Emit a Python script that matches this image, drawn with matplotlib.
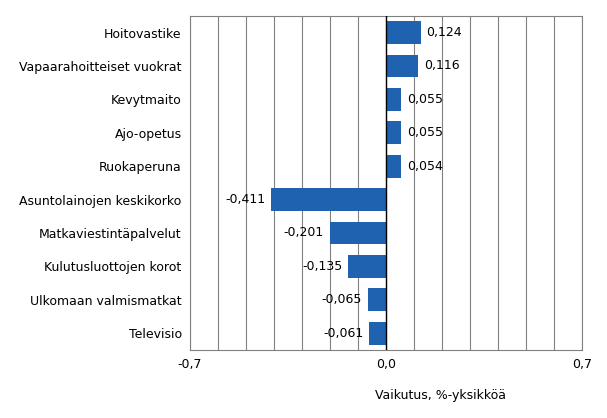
import matplotlib
matplotlib.use("Agg")
import matplotlib.pyplot as plt
import numpy as np

categories = ["Hoitovastike", "Vapaarahoitteiset vuokrat", "Kevytmaito", "Ajo-opetus",
              "Ruokaperuna", "Asuntolainojen keskikorko", "Matkaviestintäpalvelut",
              "Kulutusluottojen korot", "Ulkomaan valmismatkat", "Televisio"]
values = [0.124, 0.116, 0.055, 0.055, 0.054, -0.411, -0.201, -0.135, -0.065, -0.061]
xticks = [-0.7, 0.0, 0.7]
xticklabels = ["-0,7", "0,0", "0,7"]

fig = plt.figure(figsize=(6.07, 4.18), dpi=100)
ax = fig.add_axes([190/607, 0.163, 392/607, 0.799])
y = np.arange(len(categories))
ax.barh(y, values, height=0.68, color="#1f63b0", zorder=3)
for yi, v in zip(y, values):
    s = f"{v:.3f}".replace(".", ",")
    if v >= 0:
        ax.text(v + 0.02, yi, s, va="center", ha="left", fontsize=9)
    else:
        ax.text(v - 0.02, yi, s, va="center", ha="right", fontsize=9)
ax.set_xlim(-0.7, 0.7)
ax.set_ylim(len(categories) - 0.5, -0.5)
ax.set_yticks(y)
ax.set_yticklabels(categories, fontsize=9)
ax.set_xticks(xticks)
ax.set_xticklabels(xticklabels, fontsize=9)
ax.set_xticks(np.arange(-0.7, 0.71, 0.1), minor=True)
ax.grid(True, axis="x", which="both", color="#808080", linewidth=0.8, zorder=0)
ax.axvline(0, color="black", linewidth=1, zorder=4)
ax.tick_params(axis="y", length=0, pad=6)
ax.tick_params(axis="x", which="both", length=0, pad=6)
for s in ax.spines.values():
    s.set_color("#808080")
    s.set_linewidth(0.8)
fig.text(0.725, 0.045, "Vaikutus, %-yksikköä", ha="center", fontsize=9)
fig.savefig("out.png", dpi=100)
